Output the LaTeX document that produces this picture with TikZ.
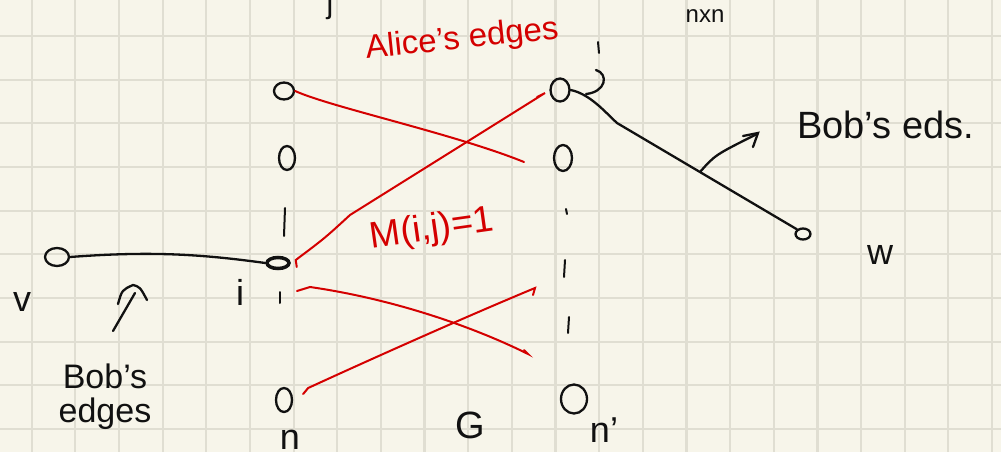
\documentclass[tikz,border=0pt]{standalone}
\usepackage{fontspec}
\setmainfont{Liberation Sans}
\usetikzlibrary{shapes.geometric}
\definecolor{paper}{HTML}{F7F5EA}
\definecolor{gridc}{HTML}{E0DED2}
\definecolor{pen}{HTML}{D40000}
\definecolor{ink}{HTML}{111111}
\begin{document}
\begin{tikzpicture}[x=1pt,y=-1pt,
  gridline/.style={gridc,line width=2.2pt},
  vert/.style={draw=ink,ellipse,line width=2.3pt,inner sep=0pt},
  tickmark/.style={ink,line width=2pt,line cap=round},
  blackedge/.style={ink,line width=2.3pt,line cap=round},
  rededge/.style={pen,line width=2pt,line cap=round},
  hand/.style={ink,inner sep=0pt},
  redhand/.style={pen,inner sep=0pt}]
\useasboundingbox (0,0) rectangle (1001,452);
\clip (0,0) rectangle (1001,452);
\fill[paper] (0,0) rectangle (1001,452);
\foreach \k in {0,...,22} \draw[gridline] ({31.7+43.65*\k},0) -- ++(0,452);
\foreach \k in {1,...,10} \draw[gridline] (0,{-7.6+43.65*\k}) -- ++(1001,0);

% vertices
\node[vert,minimum width=20pt,minimum height=17pt] (L1) at (284,91) {};
\node[vert,minimum width=16pt,minimum height=24pt] (L2) at (287,158) {};
\node[vert,minimum width=22pt,minimum height=11pt,line width=3.5pt] (I) at (278,263) {};
\node[vert,minimum width=16pt,minimum height=24pt] (LN) at (284,400) {};
\node[vert,minimum width=19pt,minimum height=23pt] (R1) at (560,90) {};
\node[vert,minimum width=18pt,minimum height=26pt] (R2) at (563,158) {};
\node[vert,minimum width=26pt,minimum height=29pt] (RN) at (574,399) {};
\node[vert,minimum width=24pt,minimum height=18pt] (V) at (57,257) {};
\node[vert,minimum width=15pt,minimum height=11pt] (W) at (803,234) {};

% dots (ticks) in the columns
\draw[tickmark] (285,208) -- (284,236);
\draw[tickmark] (280,292) -- (280,303);
\draw[tickmark] (566,209) -- (567,214);
\draw[tickmark] (565,260) -- (564,277);
\draw[tickmark] (569,317) -- (568,333);
\draw[tickmark] (598,42) -- (599,53);

% self hook at R1
\draw[blackedge] (586,94) .. controls (606,92) and (609,74) .. (596,70);

% Bob's edges (black)
\draw[blackedge] (V.east) .. controls (150,251) and (200,254) .. (I.west);
\coordinate (w1) at (617,123);
\draw[blackedge] (R1.east) .. controls (590,94) and (605,112) .. (w1) -- (W.north west);

% Alice's edges (red)
\coordinate (a1) at (524,162);
\draw[rededge] (L1.east) .. controls (330,107) and (455,134) .. (a1);
\coordinate (a2) at (545,93);
\draw[rededge] ([shift={(6,4)}]I.east) -- ([shift={(5,-3)}]I.east) .. controls (325,238) .. (350,215) -- (a2) -- (537,97);
\coordinate (a3) at (528,354);
\draw[rededge] (297,291) -- (310,287) .. controls (400,300) and (480,330) .. (a3) -- (524,350);
\coordinate (a4) at (535,288);
\draw[rededge] ([shift={(10,-6)}]LN.east) -- ([shift={(15,-12)}]LN.east) .. controls (380,355) and (470,315) .. (a4) -- (533,295);

% annotation arrows
\draw[blackedge] (113,331) -- (135,293);
\draw[blackedge] (118,304) .. controls (122,290) .. (133,285) .. controls (140,287) .. (147,300);
\draw[blackedge] (700,172) .. controls (715,155) .. (757,134);
\draw[blackedge] (743,136) -- (758,133) -- (753,147);

% labels
\node[redhand,rotate=6,font=\fontsize{33}{36}\selectfont] (alice) at (462,40) {Alice's edges};
\node[redhand,rotate=8,font=\fontsize{37}{40}\selectfont] (mij) at (432,230) {M(i,j)=1};
\node[hand,font=\fontsize{38}{40}\selectfont,anchor=west] (bobr) at (797,125) {Bob's eds.};
\node[hand,font=\fontsize{34}{34}\selectfont,align=center] (bobl) at (105,397) {Bob's\\edges};
\node[hand,font=\fontsize{36}{38}\selectfont] (lv) at (22,302) {v};
\node[hand,font=\fontsize{36}{38}\selectfont] (li) at (240,292) {i};
\node[hand,font=\fontsize{36}{38}\selectfont] (ln) at (290,440) {n};
\node[hand,font=\fontsize{38}{40}\selectfont] (lg) at (470,425) {G};
\node[hand,font=\fontsize{36}{38}\selectfont] (lnp) at (604,430) {n'};
\node[hand,font=\fontsize{36}{38}\selectfont] (lw) at (880,255) {w};
\node[hand,font=\fontsize{30}{32}\selectfont] (lj) at (330,6) {j};
\node[hand,font=\fontsize{24}{26}\selectfont] (lnxn) at (705,16) {nxn};
\end{tikzpicture}
\end{document}
